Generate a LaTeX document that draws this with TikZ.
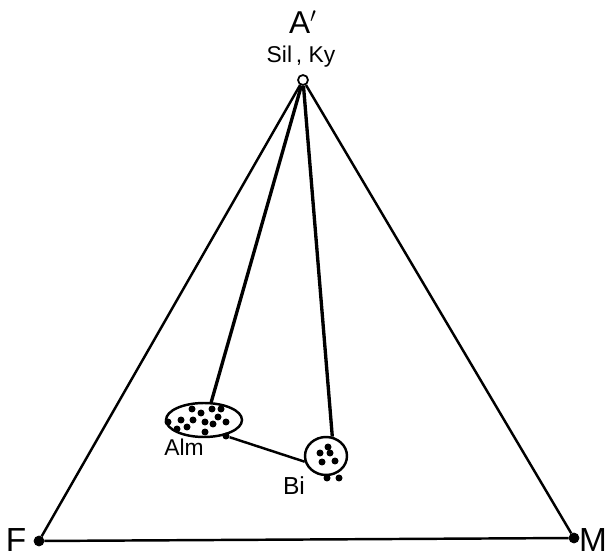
\documentclass[tikz,border=0pt]{standalone}
\usepackage{fontspec}
\setmainfont{Liberation Sans}
\usetikzlibrary{shapes.geometric}
\tikzset{
  corner/.style={
    inner sep = 0pt,
    shape = circle,
    minimum size = 0.2cm,
    draw,
    fill
  },
  opencorner/.style={
    inner sep = 0pt,
    shape = circle,
    minimum size = 0.2cm,
    line width = 1pt,
    draw,
    fill = white
  },
  phase/.style={
    shape = ellipse,
    inner sep = 0pt,
    line width = 1.4pt,
    draw
  },
  grain/.style={
    inner sep = 0pt,
    shape = circle,
    minimum size = 0.14cm,
    fill
  },
  side/.style={line width = 1.4pt},
  tie/.style={line width = 1.9pt},
  every picture/.style = {
    x = 0.02cm,
    y = -0.02cm
  }
}

\begin{document}
\begin{tikzpicture}
        \useasboundingbox (0,0) rectangle (609,557);
        % corners of the triangle
        \node[corner] (F) at (39,541) {};
        \node[corner] (M) at (574,538) {};
        \node[opencorner] (apex) at (303,80) {};
        \node (lblA) at (303,22) {\fontsize{18}{18}\selectfont A$'$};
        \node (lblSil) at (301,57) {\fontsize{13}{13}\selectfont Sil\,, Ky};
        \node (lblF) at (16,540) {\fontsize{19}{19}\selectfont F};
        \node (lblM) at (593,540) {\fontsize{19}{19}\selectfont M};
        \draw[side] (F) -- (apex) -- (M) -- (F);
        % phases
        \node[phase, minimum width=1.52cm, minimum height=0.68cm] (alm) at (204,420) {};
        \node[phase, minimum width=0.84cm, minimum height=0.76cm] (bi) at (326,456) {};
        \node (lblAlm) at (184,447) {\fontsize{13}{13}\selectfont Alm};
        \node (lblBi) at (294,486) {\fontsize{14}{14}\selectfont Bi};
        \foreach \x/\y [count=\i] in {192/409, 212/409, 221/409, 201/413, 218/417,
                                      181/420, 193/420, 205/422, 226/422, 213/424,
                                      168/422, 187/427, 177/429, 205/432}
            \node[grain] (almg\i) at (\x,\y) {};
        \node[grain] (almtip) at (226,436) {};
        \foreach \x/\y [count=\i] in {328/447, 320/453, 330/453, 322/462, 335/461,
                                      327/478, 339/478}
            \node[grain] (big\i) at (\x,\y) {};
        % tie lines
        \draw[tie] (apex) -- (alm.68);
        \draw[tie] (apex) -- (bi.72);
        \draw[side] (almtip) -- (bi.195);
    \end{tikzpicture}
\end{document}
